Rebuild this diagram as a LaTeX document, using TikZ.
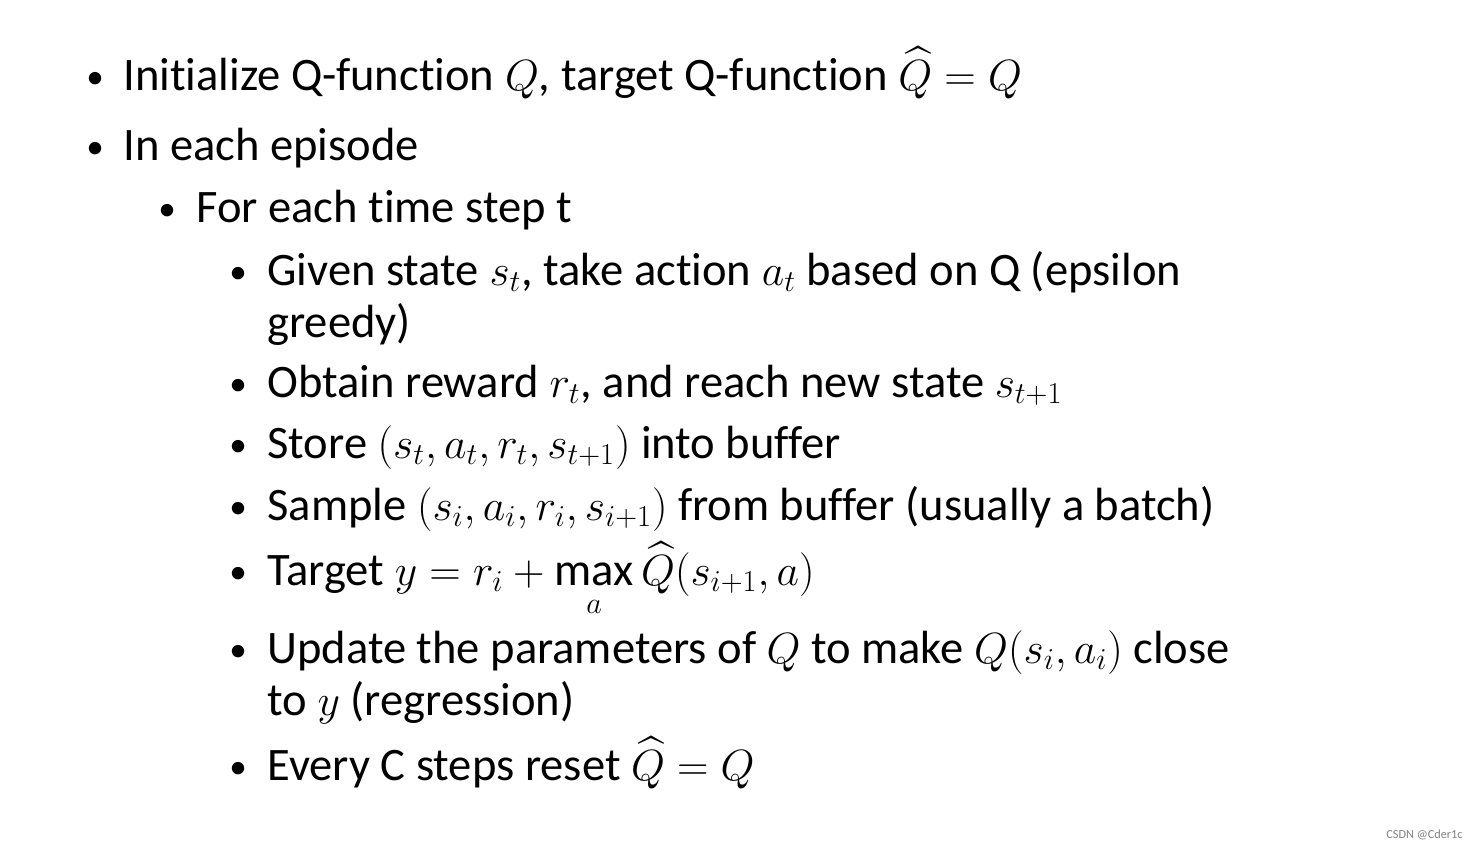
\documentclass[tikz,border=0pt]{standalone}
\usepackage{amsmath,amssymb}
\usepackage{fontspec}
\setmainfont{Carlito}[RawFeature=-liga]
\usepackage{xcolor}
\tikzset{
    line/.style={anchor=base west, inner sep=0pt, font=\fontsize{26.5}{30}\selectfont},
    dot/.style={anchor=base, inner sep=0pt, font=\fontsize{20}{24}\selectfont}
}

\begin{document}
\begin{tikzpicture}[x=0.02cm, y=-0.02cm]
\useasboundingbox (0,0) rectangle (1478,850);

% level 1
\node[dot] (b1) at (95,88) {\textbullet};
\node[line] (l1) at (123,90) {Initialize Q-function $Q$, target Q-function $\widehat{Q}=Q$};
\node[dot] (b2) at (95,158) {\textbullet};
\node[line] (l2) at (123,160) {In each episode};

% level 2
\node[dot] (b3) at (167,220) {\textbullet};
\node[line] (l3) at (196,222) {For each time step t};

% level 3
\node[dot] (b4) at (238,283) {\textbullet};
\node[line] (l4) at (267,285) {Given state $s_t$, take action $a_t$ based on Q (epsilon};
\node[line] (l4b) at (267,337) {greedy)};
\node[dot] (b5) at (238,395) {\textbullet};
\node[line] (l5) at (267,397) {Obtain reward $r_t$, and reach new state $s_{t+1}$};
\node[dot] (b6) at (238,456) {\textbullet};
\node[line] (l6) at (267,458) {Store $(s_t, a_t, r_t, s_{t+1})$ into buffer};
\node[dot] (b7) at (238,518) {\textbullet};
\node[line] (l7) at (267,520) {Sample $(s_i, a_i, r_i, s_{i+1})$ from buffer (usually a batch)};
\node[dot] (b8) at (238,583) {\textbullet};
\node[line] (l8) at (267,585) {Target $y = r_i + \mathop{\mathrm{\fontfamily{lmr}\selectfont max}}\limits_{a}\widehat{Q}(s_{i+1},a)$};
\node[dot] (b9) at (238,661) {\textbullet};
\node[line] (l9) at (267,663) {Update the parameters of $Q$ to make $Q(s_i,a_i)$ close};
\node[line] (l9b) at (267,715) {to $y$ (regression)};
\node[dot] (b10) at (238,778) {\textbullet};
\node[line] (l10) at (267,780) {Every C steps reset $\widehat{Q}=Q$};

% watermark
\node[anchor=base east, inner sep=0pt, font=\fontsize{7}{8}\selectfont, text=gray] (wm) at (1463,838) {CSDN @Cder1c};
\end{tikzpicture}
\end{document}
